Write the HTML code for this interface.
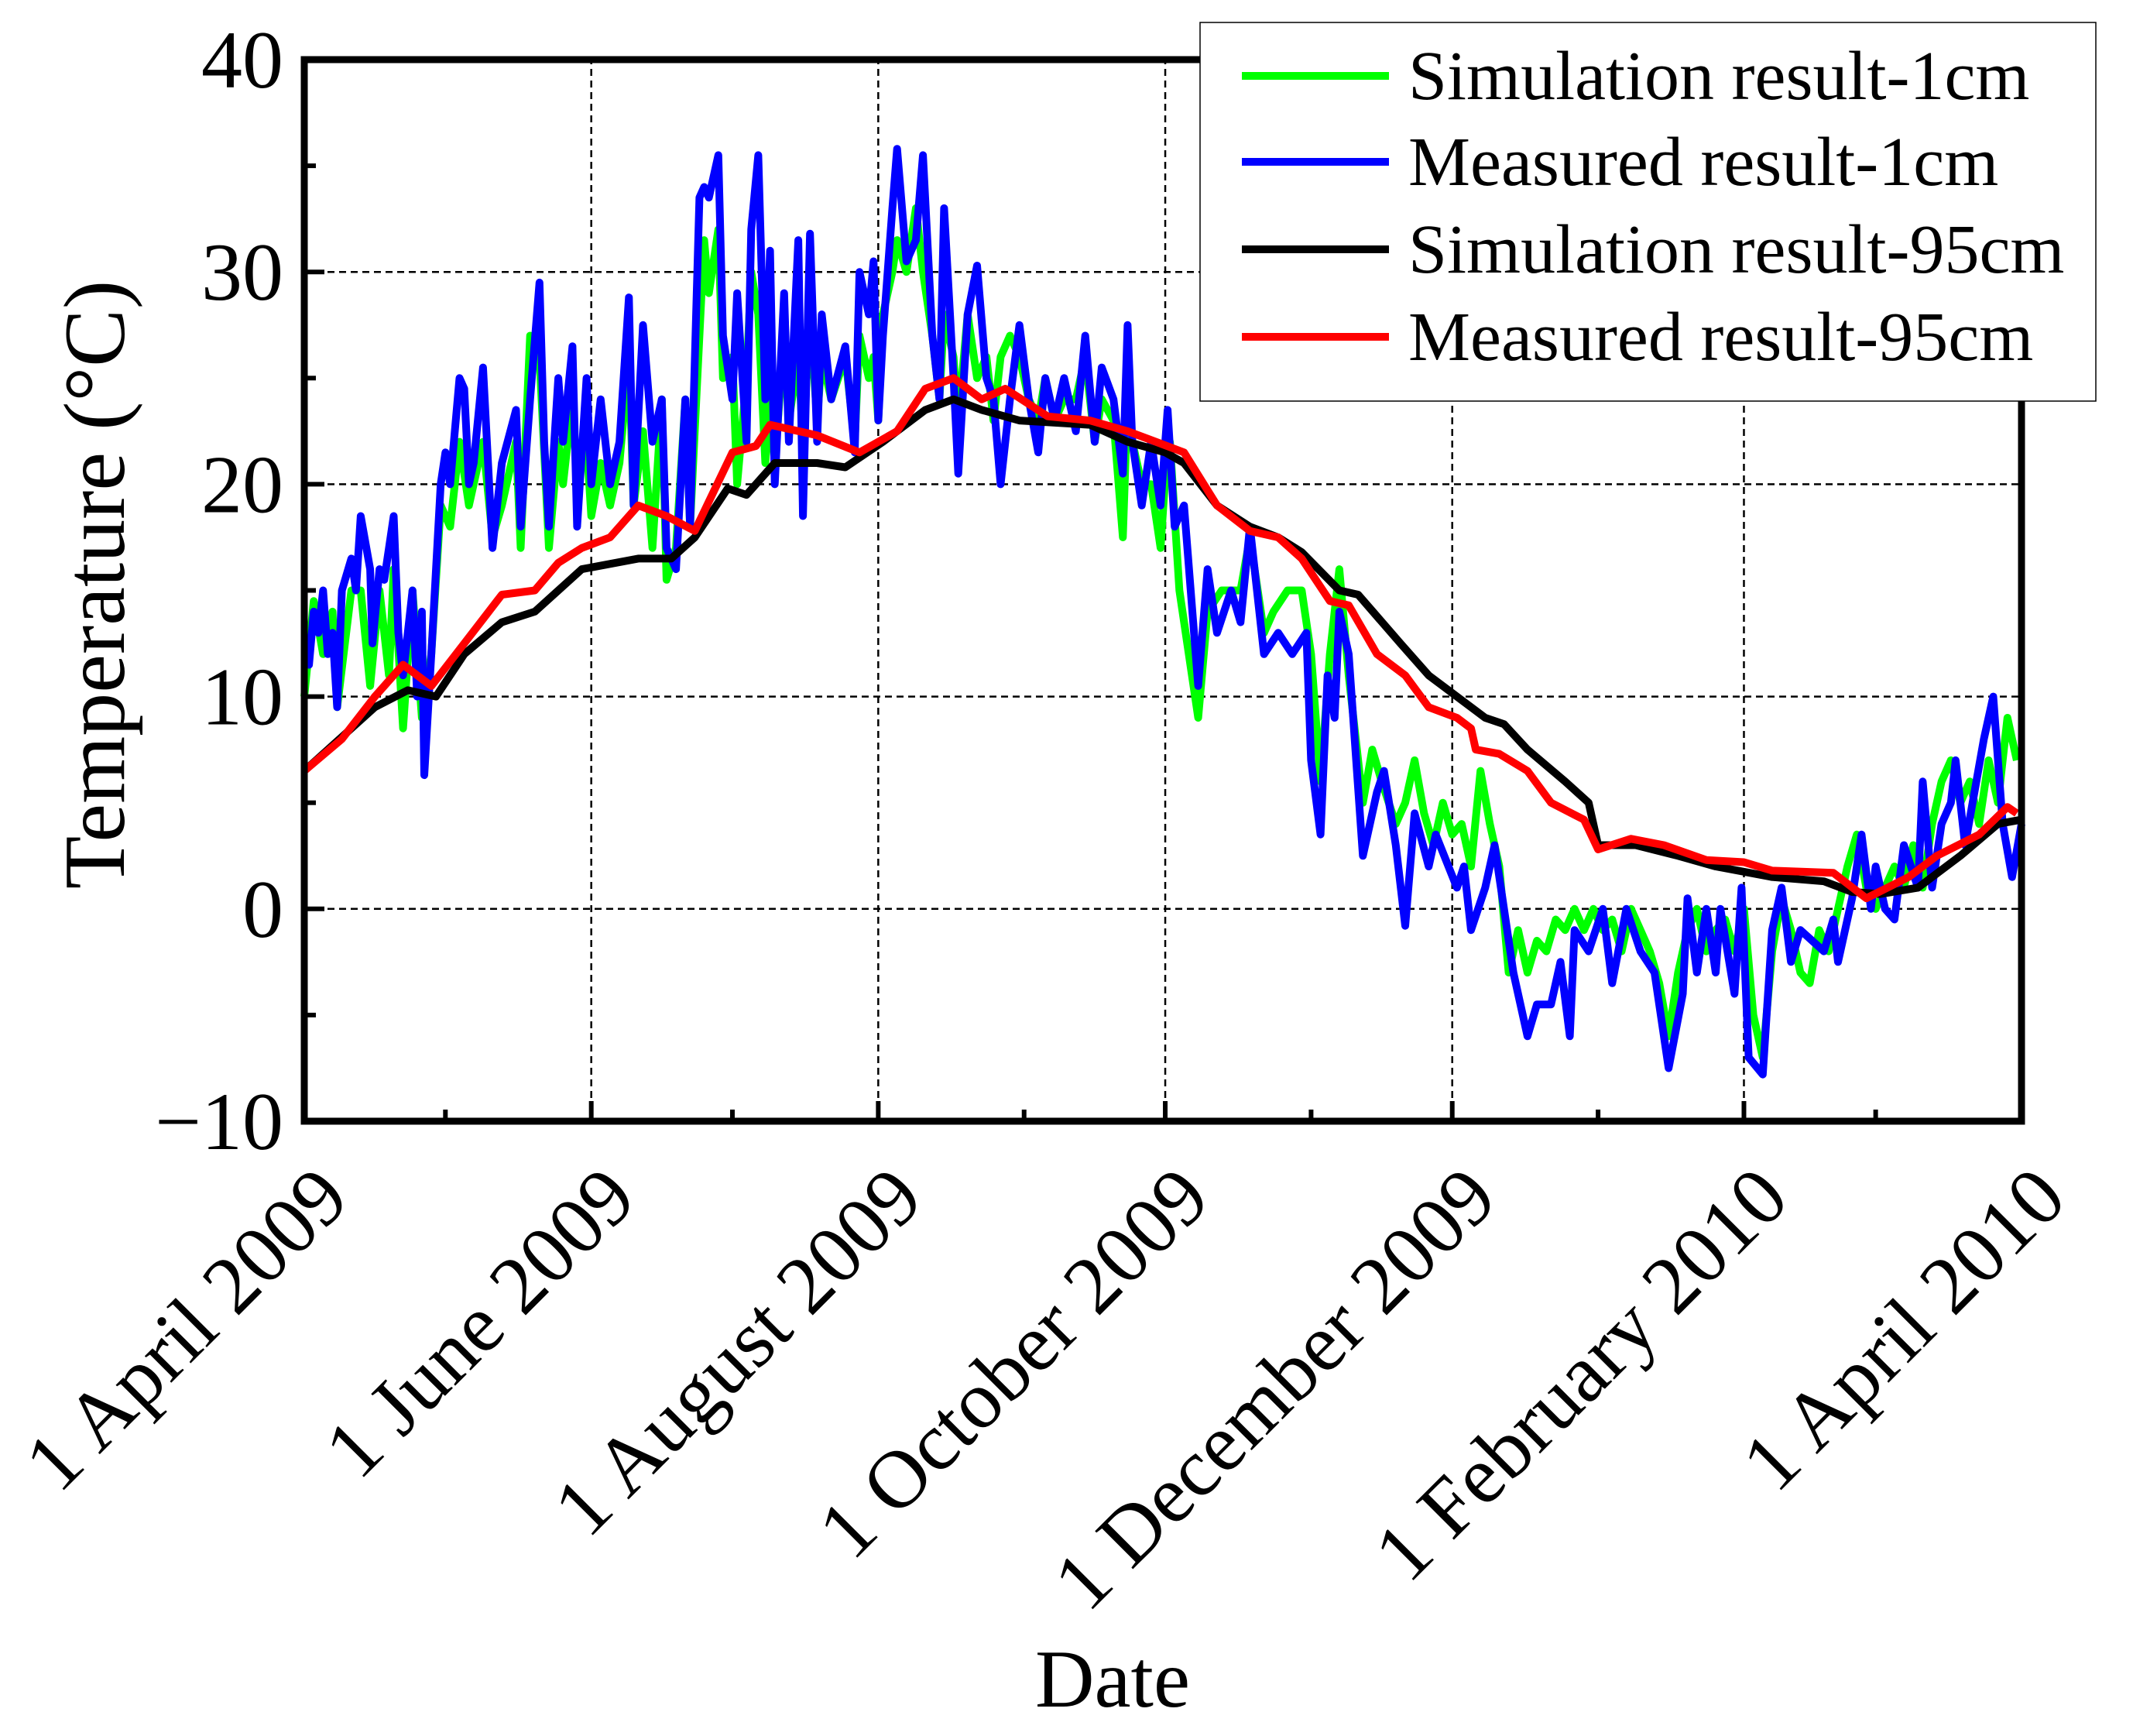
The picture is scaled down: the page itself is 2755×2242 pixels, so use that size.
<!DOCTYPE html>
<html><head><meta charset="utf-8"><style>
html,body{margin:0;padding:0;background:#fff;}
svg{display:block;font-family:"Liberation Serif","Times New Roman",serif;}
</style></head><body>
<svg id="chart" width="2755" height="2242" viewBox="0 0 2755 2242" xmlns="http://www.w3.org/2000/svg">
<rect width="2755" height="2242" fill="#fff"/>
<g id="grid"></g>
<g id="series"></g>
<g id="axes"></g>
<text transform="translate(160,755) rotate(-90)" text-anchor="middle" font-size="112">Temperature (°C)</text>
<text x="1437" y="2204" text-anchor="middle" font-size="106">Date</text>
<g>
<rect x="1550" y="29" width="1157" height="489" fill="#fff" stroke="#000" stroke-width="1.5"/>
<line x1="1604" y1="98" x2="1794" y2="98" stroke="#00ff00" stroke-width="10"/>
<text x="1819" y="128" font-size="90">Simulation result-1cm</text>
<line x1="1604" y1="209" x2="1794" y2="209" stroke="#0000ff" stroke-width="10"/>
<text x="1819" y="239" font-size="90">Measured result-1cm</text>
<line x1="1604" y1="322" x2="1794" y2="322" stroke="#000" stroke-width="10"/>
<text x="1819" y="352" font-size="90">Simulation result-95cm</text>
<line x1="1604" y1="435" x2="1794" y2="435" stroke="#ff0000" stroke-width="10"/>
<text x="1819" y="465" font-size="90">Measured result-95cm</text>
</g>
</svg>
<script>
const yTicks=[40,30,20,10,0,-10];
const yTickLabels=["40","30","20","10","0","\u221210"];
const yMinor=[35,25,15,5,-5];
const xTickDays=[0,61,122,183,244,306,365];
const xTickLabels=["1 April 2009","1 June 2009","1 August 2009","1 October 2009","1 December 2009","1 February 2010","1 April 2010"];
const xMinorDays=[30,91,153,214,275,334];

const blueDays=[0,1,2,3,4,5,6,7,8,10,11,12,14,14.5,16,17,18,19,20,21,23,24,25,25.5,27,29,30,31,33,34,35,36,38,40,42,45,46,48,50,51,52,54,55,57,58,60,61,63,65,67,69,70,72,74,76,77,79,81,82,84,85,86,88,89,91,92,94,95,96.5,98,99,100,102,103,105,106,107.5,109,110,112,115,117,118,120,121,122,123,125,126,128,130,131.5,133.5,135,136,138,139,141,143,145,146.5,148,150,152,154,156,157.5,159.5,161.5,164,166,168,169.5,172,174,175,176,178,180,182,183.5,185,187,190,192,194,197,199,201,204,207,210,213,214,216,217.5,219,220,222,225,228,229.5,232,234,236,239,240.5,245,246.5,248,251,253,255,257,260,262,265,267,269,270,273,276,278,281,284,287,290,293,294,296,298,300,301,304,305.5,307,310,312,314,316,318,323,325,326,329,331,333,334,336,338,340,343,344,346,348,350,351,353,357,359,361,363,365];
const blueVals=[12,11.5,14,13,15,12,13,9.5,15,16.5,15,18.5,16,12.5,16,15.5,17,18.5,13,11,15,10,14,6.3,12,20,21.5,20,25,24.5,20,21,25.5,17,21,23.5,18,24,29.5,22,18,25,22,26.5,18,25,20,24,20,22,28.8,19,27.5,22,24,17,16,24,18,33.5,34,33.5,35.5,27,24,29,22,32,35.5,24,31,20,29,22,31.5,18.5,31.8,22,28,24,26.5,21.5,30,28,30.5,23,27,33,35.8,30.5,31.5,35.5,27,24,33,25,20.5,28,30.3,25,24,20,24,27.5,24,21.5,25,23,25,22.5,27,22,25.5,24,20.5,27.5,22,19,22,19,23.5,18,19,10.5,16,13,15,13.5,18,12,13,12,13,7,3.5,11,9,14,12,2.5,5.5,6.5,3,-0.8,4.5,2,3.5,1,2,-1,1,3,0,-3,-6,-4.5,-4.5,-2.5,-6,-1,-2,0,-3.5,0,-2,-3,-7.5,-4,0.5,-3,0,-3,0,-4,1,-7,-7.8,-1,1,-2.5,-1,-2,-0.5,-2.5,0.5,3.5,0,2,0,-0.5,3,1,6,1,4,5,7,3,8,10,4,1.5,4,3];

const greenDays=[0,2,4,6,7,10,12,14,16,18,19,21,23,25,27,29,31,33,35,38,40,42,45,46,48,50,52,54,55,57,58,60,61,63,65,67,69,70,72,74,76,77,79,81,82,84,85,86,88,89,91,92,94,95,96.5,98,99,100,102,103,105,106,107.5,109,110,112,115,117,118,120,121,122,123,125,126,128,130,131.5,133.5,135,136,138,139,141,143,145,146.5,148,150,152,154,156,157.5,159.5,161.5,164,166,168,169.5,172,174,175,176,178,180,182,183.5,184,186,190,192,195,199,201,204,206,209,212,214,216,218,220,222,225,227,229,232,234,236,238,240,242,244,246,248,250,252,254,256,258,260,262,264,266,268,270,272,274,276,278,280,282,284,286,288,290,292,294,296,298,300,302,304,306,308,310,312,314,316,318,320,322,324,326,328,330,332,334,336,338,340,342,344,346,348,350,352,354,356,358,360,362,364];
const greenVals=[10,14.5,12,14,9.5,15,15,10.5,15,11,16,8.5,15,9,12,19,18,22,19,22,17.5,19,22,17,27,26,17,22,20,24,20,22,18.5,21,19,21,26,19,22.5,17,24,15.5,17,24,18,27,31.5,29,32,25,26,20,25,30,28,21,24,21,27,23,26,22,28,23,26,24,26,22,27,25,26,23,28,30,31.5,30,33,30,27,24,28,26,23,28,25,26,23,26,27,26,24,23,25,23,24,24,26,22,24,23,17.5,24,22,20,20,17,22,22,15,9,14,15,15,17.5,13,14,15,15,12,6,12,16,11,5,7.5,6,4,5,7,4.5,3,5,3.5,4,2,6.5,4,2,-3,-1,-3,-1.5,-2,-0.5,-1,0,-1,0,-1,-0.5,-2,0,-1,-2,-3.5,-6,-3,-1,0,-2,-1,-0.5,-2,0,-5,-7,-2,0.5,-1,-3,-3.5,-1,-2,0,2,3.5,1,0,1,2,1,3,1,4,6,7,5,6,4,7,5,9,7];

const blackDays=[0,15,22,28,34,42,49,59,71,78,83,90,94,100,109,115,123,132,138,144,152,167,175,183,187,194,201,207,212,220,224,233,239,245,251,255,260,268,273,275,283,292,300,312,323,329,335,343,352,360,365];
const blackVals=[6.5,9.5,10.3,10,12,13.5,14,16,16.5,16.5,17.5,19.8,19.5,21,21,20.8,22,23.5,24,23.5,23,22.8,22,21.5,21,19,18,17.5,16.8,15,14.8,12.5,11,10,9,8.7,7.5,6,5,3,3,2.5,2,1.5,1.3,0.8,0.7,1,2.5,4,4.2];

const redDays=[0,8,15,21,27,34,42,49,54,59,65,71,77,83,91,96,99,109,118,126,132,138,144,149,158,167,175,181,187,194,201,207,212,218,222,228,234,239,245,248,249,254,260,265,272,275,282,289,298,306,312,325,332,341,347,356,362,364];
const redVals=[6.5,8,10,11.5,10.5,12.5,14.8,15,16.3,17,17.5,19,18.5,17.8,21.5,21.8,22.8,22.3,21.5,22.5,24.5,25,24,24.5,23.2,23,22.5,22,21.5,19,17.8,17.5,16.5,14.5,14.3,12,11,9.5,9,8.5,7.5,7.3,6.5,5,4.2,2.8,3.3,3,2.3,2.2,1.8,1.7,0.5,1.5,2.5,3.5,4.8,4.5];

const X0=393,X1=2611,Y0=1448,Y1=77;
const xs=d=>X0+(X1-X0)*d/365;
const ys=v=>Y0+(Y1-Y0)*(v+10)/50;
const NS="http://www.w3.org/2000/svg";
function mk(tag,attrs,parent){const e=document.createElementNS(NS,tag);for(const k in attrs)e.setAttribute(k,attrs[k]);parent.appendChild(e);return e;}
const grid=document.getElementById('grid'),axes=document.getElementById('axes'),series=document.getElementById('series');

yTicks.forEach((v,i)=>{
  if(v>-10&&v<40){const l=mk('line',{x1:X0,x2:X1,y1:ys(v),y2:ys(v),stroke:'#000','stroke-width':2.5,'stroke-dasharray':'9 6'},grid);
  
  }
  const t=mk('line',{x1:X0,x2:X0+26,y1:ys(v),y2:ys(v),stroke:'#000','stroke-width':6},axes);
  
  
  const tx=mk('text',{x:366,y:ys(v)+36,'text-anchor':'end','font-size':106},axes);
  tx.textContent=yTickLabels[i];
  
  
});
yMinor.forEach(v=>{const t=mk('line',{x1:X0,x2:X0+15,y1:ys(v),y2:ys(v),stroke:'#000','stroke-width':6},axes);
  
  });
xTickDays.forEach((d,i)=>{
  if(d>0&&d<365){const l=mk('line',{x1:xs(d),x2:xs(d),y1:Y0,y2:Y1,stroke:'#000','stroke-width':2.5,'stroke-dasharray':'9 6'},grid);
  
  }
  const t=mk('line',{x1:xs(d),x2:xs(d),y1:Y0,y2:Y0-26,stroke:'#000','stroke-width':6},axes);
  
  
  const px=xs(d)+62,py=1552;
  const tx=mk('text',{x:px,y:py,'text-anchor':'end','font-size':106,transform:`rotate(-45 ${px} ${py})`},axes);
  tx.textContent=xTickLabels[i];
  
  
});
xMinorDays.forEach(d=>{const t=mk('line',{x1:xs(d),x2:xs(d),y1:Y0,y2:Y0-15,stroke:'#000','stroke-width':6},axes);
  
  });
const frame=mk('rect',{x:X0,y:Y1,width:X1-X0,height:Y0-Y1,fill:'none',stroke:'#000','stroke-width':9},axes);



function line(days,vals,color,name){
  const d=days.map((dd,i)=>(i?'L':'M')+xs(dd).toFixed(1)+','+ys(vals[i]).toFixed(1)).join('');
  const p=mk('path',{d:d,fill:'none',stroke:color,'stroke-width':10,'stroke-linejoin':'round'},series);
  
  
}
line(greenDays,greenVals,'#00ff00','sim-1cm-line');
line(blueDays,blueVals,'#0000ff','meas-1cm-line');
line(blackDays,blackVals,'#000000','sim-95cm-line');
line(redDays,redVals,'#ff0000','meas-95cm-line');
</script>
</body></html>
